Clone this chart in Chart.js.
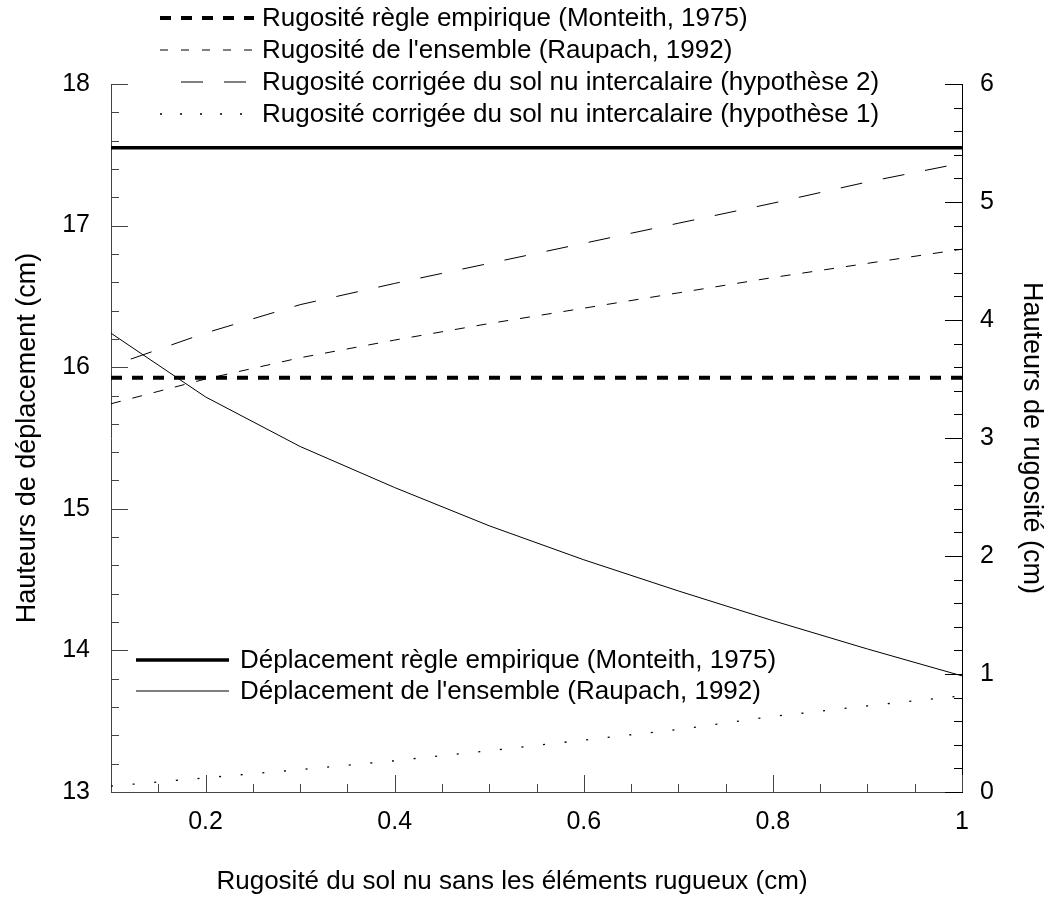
<!DOCTYPE html>
<html>
<head>
<meta charset="utf-8">
<script src="https://cdn.jsdelivr.net/npm/chart.js@4.4.1/dist/chart.umd.min.js"></script>
<style>
  html, body { margin: 0; padding: 0; background: #fff; }
  #wrap { width: 1048px; height: 898px; }
</style>
</head>
<body>
<div id="wrap"><canvas id="chart"></canvas></div>
<script>
// data
const xValues = [0.1, 0.2, 0.3, 0.4, 0.5, 0.6, 0.7, 0.8, 0.9, 1.0];
const deplEmpirique = [17.55, 17.55, 17.55, 17.55, 17.55, 17.55, 17.55, 17.55, 17.55, 17.55];
const deplEnsemble = [16.24, 15.79, 15.44, 15.15, 14.88, 14.64, 14.42, 14.21, 14.01, 13.82];
const rugoEmpirique = [3.51, 3.51, 3.51, 3.51, 3.51, 3.51, 3.51, 3.51, 3.51, 3.51];
const rugoEnsemble = [3.29, 3.50, 3.68, 3.83, 3.97, 4.10, 4.23, 4.36, 4.48, 4.60];
const rugoHyp2 = [3.61, 3.89, 4.13, 4.31, 4.48, 4.65, 4.82, 4.99, 5.17, 5.33];
const rugoHyp1 = [0.05, 0.12, 0.19, 0.265, 0.35, 0.44, 0.53, 0.64, 0.73, 0.815];

const xTickLabels = [0.2, 0.4, 0.6, 0.8, 1];
const leftTickLabels = [13, 14, 15, 16, 17, 18];
const rightTickLabels = [0, 1, 2, 3, 4, 5, 6];

const FONT = "'Liberation Sans', Arial, sans-serif";

function pts(ys) {
    return xValues.map((x, i) => ({ x: x, y: ys[i] }));
}

// inward tick marks, x title, and the two hand-placed legends
const decor = {
    id: 'decor',
    afterDraw(chart) {
        const { ctx, chartArea: a, scales } = chart;
        const x = scales.x, yL = scales.yL, yR = scales.yR;
        ctx.save();
        ctx.lineWidth = 1;

        // left axis: minor every 0.2
        ctx.strokeStyle = '#444';
        for (let i = 0; i <= 25; i++) {
            const py = Math.round(yL.getPixelForValue(13 + i * 0.2)) + 0.5;
            const len = i % 5 === 0 ? 17 : 8;
            ctx.beginPath(); ctx.moveTo(a.left, py); ctx.lineTo(a.left + len, py); ctx.stroke();
        }
        // bottom axis: minor every 0.05
        for (let i = 1; i <= 18; i++) {
            const v = 0.1 + i * 0.05;
            const px = Math.round(x.getPixelForValue(v)) + 0.5;
            const len = (i - 2) % 4 === 0 ? 17 : 8;
            ctx.beginPath(); ctx.moveTo(px, a.bottom); ctx.lineTo(px, a.bottom - len); ctx.stroke();
        }
        // right axis
        ctx.strokeStyle = '#000';
        for (let i = 0; i <= 30; i++) {
            const py = Math.round(yR.getPixelForValue(i * 0.2)) + 0.5;
            const len = i % 5 === 0 ? 17 : 8;
            ctx.beginPath(); ctx.moveTo(a.right, py); ctx.lineTo(a.right - len, py); ctx.stroke();
        }

        ctx.fillStyle = '#000';
        // x axis title (sits a bit left of the plot centre in the original)
        ctx.font = '26px ' + FONT;
        ctx.textAlign = 'center';
        ctx.textBaseline = 'alphabetic';
        ctx.fillText('Rugosité du sol nu sans les éléments rugueux (cm)', 512, 889);

        // legends
        ctx.textBaseline = 'middle';
        ctx.textAlign = 'left';
        const top = [
            { y: 18, w: 4, dash: [11, 10], label: 'Rugosité règle empirique (Monteith, 1975)' },
            { y: 50, w: 1, dash: [8, 13], label: "Rugosité de l'ensemble (Raupach, 1992)" },
            { y: 82, w: 1, dash: [22, 21], off: 22, label: 'Rugosité corrigée du sol nu intercalaire (hypothèse 2)' },
            { y: 114, w: 1.3, dash: [2, 18], label: 'Rugosité corrigée du sol nu intercalaire (hypothèse 1)' }
        ];
        top.forEach(t => {
            ctx.lineWidth = t.w;
            ctx.setLineDash(t.dash);
            ctx.lineDashOffset = t.off || 0;
            ctx.beginPath(); ctx.moveTo(160, t.y); ctx.lineTo(254, t.y); ctx.stroke();
            ctx.setLineDash([]);
            ctx.fillText(t.label, 262, t.y + 1);
        });
        const bottom = [
            { y: 660, w: 3.5, label: 'Déplacement règle empirique (Monteith, 1975)' },
            { y: 691, w: 1, label: "Déplacement de l'ensemble (Raupach, 1992)" }
        ];
        bottom.forEach(t => {
            ctx.lineWidth = t.w;
            ctx.beginPath(); ctx.moveTo(136, t.y); ctx.lineTo(229, t.y); ctx.stroke();
            ctx.fillText(t.label, 240, t.y + 1);
        });
        ctx.restore();
    }
};

const ctx = document.getElementById('chart').getContext('2d');
new Chart(ctx, {
    type: 'line',
    data: {
        datasets: [
            {
                label: 'Déplacement règle empirique (Monteith, 1975)',
                data: pts(deplEmpirique), yAxisID: 'yL',
                borderColor: '#000', borderWidth: 3.5
            },
            {
                label: "Déplacement de l'ensemble (Raupach, 1992)",
                data: pts(deplEnsemble), yAxisID: 'yL',
                borderColor: '#000', borderWidth: 1
            },
            {
                label: 'Rugosité règle empirique (Monteith, 1975)',
                data: pts(rugoEmpirique), yAxisID: 'yR',
                borderColor: '#000', borderWidth: 4, borderDash: [11, 10]
            },
            {
                label: "Rugosité de l'ensemble (Raupach, 1992)",
                data: pts(rugoEnsemble), yAxisID: 'yR',
                borderColor: '#000', borderWidth: 1, borderDash: [10, 12]
            },
            {
                label: 'Rugosité corrigée du sol nu intercalaire (hypothèse 2)',
                data: pts(rugoHyp2), yAxisID: 'yR',
                borderColor: '#000', borderWidth: 1, borderDash: [22, 21], borderDashOffset: 22
            },
            {
                label: 'Rugosité corrigée du sol nu intercalaire (hypothèse 1)',
                data: pts(rugoHyp1), yAxisID: 'yR',
                borderColor: '#000', borderWidth: 1.3, borderDash: [2, 19.7]
            }
        ]
    },
    options: {
        responsive: true,
        maintainAspectRatio: false,
        animation: false,
        devicePixelRatio: 1,
        layout: { padding: { top: 84, left: 0, right: 0, bottom: 0 } },
        elements: {
            point: { radius: 0, hoverRadius: 0 },
            line: { tension: 0, fill: false }
        },
        plugins: {
            legend: { display: false },
            tooltip: { enabled: false }
        },
        scales: {
            x: {
                type: 'linear',
                min: 0.1, max: 1,
                afterBuildTicks: s => { s.ticks = xTickLabels.map(v => ({ value: v })); },
                afterFit: s => { s.height = 106; },
                grid: { display: false, drawTicks: false },
                border: { display: true, color: '#444', width: 1 },
                ticks: {
                    autoSkip: false, maxRotation: 0, padding: 15,
                    color: '#000', font: { family: FONT, size: 25 },
                    callback: v => String(v)
                },
                title: { display: false }
            },
            yL: {
                type: 'linear', position: 'left',
                min: 13, max: 18,
                afterBuildTicks: s => { s.ticks = leftTickLabels.map(v => ({ value: v })); },
                afterFit: s => { s.width = 111; },
                grid: { display: false, drawTicks: false },
                border: { display: true, color: '#444', width: 1 },
                ticks: {
                    padding: 21, color: '#000', font: { family: FONT, size: 25 },
                    callback: v => String(v)
                },
                title: {
                    display: true, text: 'Hauteurs de déplacement (cm)',
                    color: '#000', font: { family: FONT, size: 27 }, padding: { top: 11, bottom: 0 }
                }
            },
            yR: {
                type: 'linear', position: 'right',
                min: 0, max: 6,
                afterBuildTicks: s => { s.ticks = rightTickLabels.map(v => ({ value: v })); },
                afterFit: s => { s.width = 86; },
                grid: { display: false, drawTicks: false },
                border: { display: true, color: '#000', width: 1 },
                ticks: {
                    padding: 18, color: '#000', font: { family: FONT, size: 25 },
                    callback: v => String(v)
                },
                title: {
                    display: true, text: 'Hauteurs de rugosité (cm)',
                    color: '#000', font: { family: FONT, size: 27 }, padding: { top: 0, bottom: 0 }
                }
            }
        }
    },
    plugins: [decor]
});
</script>
</body>
</html>
